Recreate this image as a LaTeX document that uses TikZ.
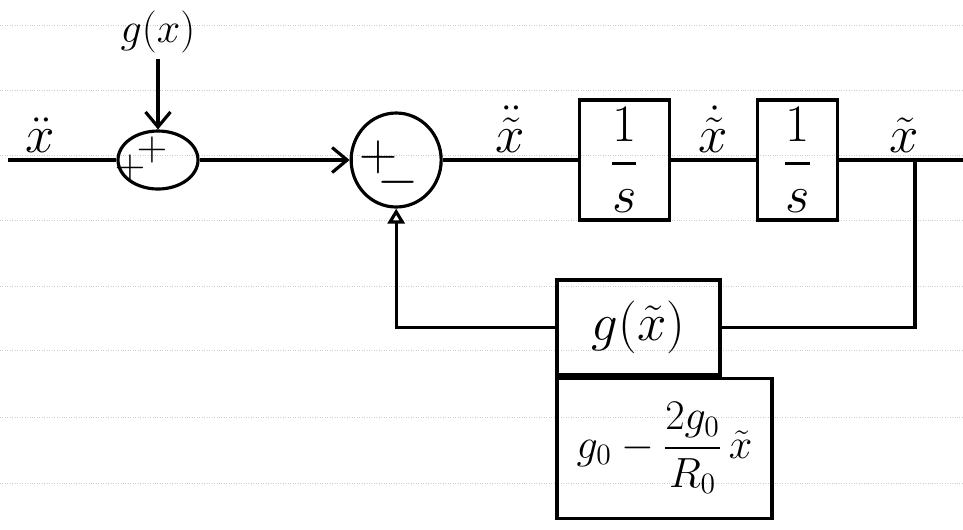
\documentclass[tikz,border=0pt]{standalone}
\usepackage{fix-cm}
\usepackage{amsmath}
\usepackage{graphicx}
\usetikzlibrary{arrows.meta, shapes.geometric, positioning}
\newcommand{\bigger}[1]{\scalebox{1.25}{#1}}
\tikzset{
  sumnode/.style={
    ellipse, draw=black, line width=1.8pt, inner sep=0pt
  },
  intblock/.style={
    rectangle, draw=black, line width=1.8pt,
    minimum height=2.4cm, inner sep=2pt,
    align=center, font=\fontsize{24}{30}\selectfont
  },
  fbblock/.style={
    rectangle, draw=black, line width=1.8pt,
    align=center, font=\fontsize{#1}{34}\selectfont
  },
  sig/.style={font=\fontsize{24}{30}\selectfont, inner sep=0pt},
  lbl/.style={font=\fontsize{24}{30}\selectfont},
  wire/.style={line width=1.8pt, draw=black},
  arrow/.style={wire, -{Straight Barb[length=3mm,width=5mm]}},
  uparrow/.style={wire, -{Triangle[open,length=3mm,width=3.4mm]}},
  rule/.style={draw=gray!40, densely dotted, line width=0.4pt}
}

\begin{document}
\begin{tikzpicture}
  \useasboundingbox (0,0) rectangle (19.26,-10.58);
  % ruled paper
  \foreach \y in {25,90,155,220,286,350,417,483}
    \draw[rule] (0,-\y/50) -- (19.26,-\y/50);

  \node[sumnode, minimum width=1.6cm, minimum height=1.16cm] (sum1) at (3.16,-3.2) {};
  \node[sumnode, minimum width=1.8cm, minimum height=1.88cm, right=3.0cm of sum1] (sum2) {};
  \node[intblock, minimum width=1.8cm, right=2.7cm of sum2] (int1) {\bigger{$\dfrac{1}{s}$}};
  \node[intblock, minimum width=1.6cm, right=1.7cm of int1] (int2) {\bigger{$\dfrac{1}{s}$}};
  \node[fbblock=24, minimum width=3.26cm, minimum height=1.9cm] (gblk) at (12.77,-6.55) {\bigger{$g(\tilde{x})$}};
  \node[fbblock=24, minimum width=4.3cm, minimum height=2.8cm, anchor=north west] (lin)
    at (gblk.south west) {$g_0-\dfrac{2g_0}{R_0}\,\tilde{x}$};
  \node[lbl, above=1.4cm of sum1] (gx) {$g(x)$};

  \coordinate (in) at (0.16,-3.2);
  \coordinate[right=2.6cm of int2] (out);
  \coordinate (br) at (18.3,0 |- int2);

  % signs
  \node[sig] at ([xshift=-0.12cm, yshift=0.2cm]sum1.center) {$+$};
  \node[sig] at ([xshift=-0.56cm, yshift=-0.16cm]sum1.center) {$+$};
  \node[sig] at ([xshift=-0.36cm, yshift=0.06cm]sum2.center) {\bigger{$+$}};
  \node[sig] at ([xshift=0.04cm, yshift=-0.45cm]sum2.center) {\bigger{$-$}};

  \draw[wire] (in) -- node[lbl, above, pos=0.3]{\bigger{$\ddot{x}$}} (sum1);
  \draw[arrow] (gx) -- (sum1);
  \draw[arrow] (sum1) -- (sum2);
  \draw[wire] (sum2) -- node[lbl, above]{\bigger{$\ddot{\tilde{x}}$}} (int1);
  \draw[wire] (int1) -- node[lbl, above]{\bigger{$\dot{\tilde{x}}$}} (int2);
  \draw[wire] (int2) -- node[lbl, above]{\bigger{$\tilde{x}$}} (out);
  \draw[wire] (br) |- (gblk.east);
  \draw[uparrow] (gblk.west) -| (sum2.south);
\end{tikzpicture}
\end{document}
